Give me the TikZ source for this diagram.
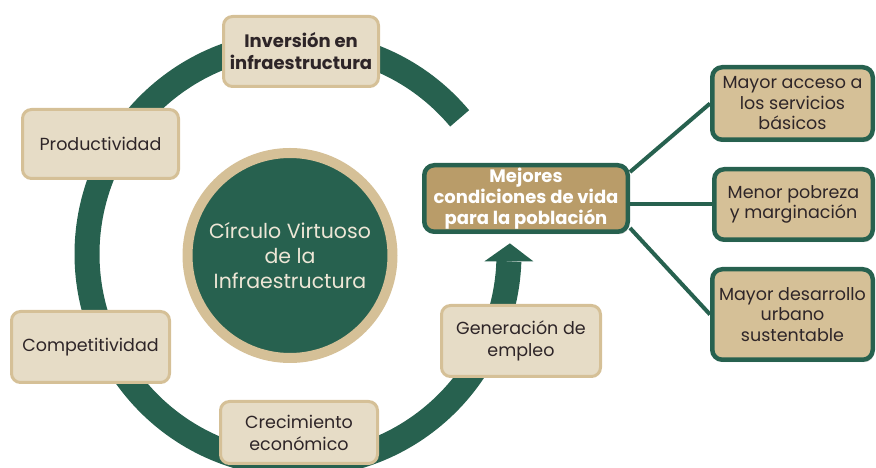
\documentclass[tikz,border=0pt]{standalone}
\usepackage{fontspec}
\setmainfont{Poppins}
\usetikzlibrary{shadows,backgrounds}
\definecolor{verde}{HTML}{27614F}
\definecolor{crema}{HTML}{E6DCC6}
\definecolor{arena}{HTML}{D5C097}
\definecolor{ocre}{HTML}{B99C69}
\definecolor{tinta}{HTML}{2E2528}
\definecolor{claro}{HTML}{EDE6D6}
\tikzset{
  ciclo/.style={draw=arena, fill=crema, line width=3pt, rounded corners=9pt,
    text=tinta, align=center, inner sep=0pt, font=\fontsize{17.5}{22}\selectfont},
  efecto/.style={draw=verde, fill=arena, line width=4.5pt, rounded corners=10pt,
    text=tinta, align=center, inner sep=0pt, font=\fontsize{17.5}{20.5}\selectfont,
    drop shadow={shadow xshift=1.5pt, shadow yshift=-2.5pt, opacity=0.35}},
  enlace/.style={draw=verde, line width=4pt}
}
\begin{document}
\begin{tikzpicture}[x=1pt,y=1pt]
  \useasboundingbox (0,0) rectangle (876,468);

  %circulo central
  \node (circulo) at (290,212.5) [circle, fill=verde, draw=arena, line width=10pt,
    minimum size=205pt, inner sep=0pt, text=claro, align=center,
    font=\fontsize{20.5}{25}\selectfont] {Círculo Virtuoso\\de la\\Infraestructura};

  %etapas del ciclo
  \node (inversion) at (301,416.5) [ciclo, minimum width=155pt, minimum height=70pt,
    font=\fontsize{18}{22}\selectfont\bfseries] {Inversión en\\infraestructura};
  \node (productividad) at (100.5,324) [ciclo, minimum width=156pt, minimum height=69pt] {Productividad};
  \node (competitividad) at (90.5,121) [ciclo, minimum width=158pt, minimum height=71pt] {Competitividad};
  \node (crecimiento) at (299,35.5) [ciclo, minimum width=157pt, minimum height=62pt] {Crecimiento\\económico};
  \node (generacion) at (521,127) [ciclo, minimum width=159pt, minimum height=71pt] {Generación de\\empleo};

  %resultado y efectos
  \node (mejores) at (526,269.5) [efecto, fill=ocre, text=white, minimum width=203.5pt, minimum height=66.5pt,
    drop shadow={shadow xshift=1pt, shadow yshift=-1.5pt, opacity=0.25},
    font=\fontsize{18}{21}\selectfont\bfseries] {Mejores\\condiciones de vida\\para la población};
  \node (acceso) at (792.5,364.5) [efecto, minimum width=160.5pt, minimum height=72.5pt] {Mayor acceso a\\los servicios\\básicos};
  \node (menor) at (793.5,263.5) [efecto, minimum width=158.5pt, minimum height=70.5pt] {Menor pobreza\\y marginación};
  \node (desarrollo) at (792.5,153.5) [efecto, minimum width=160.5pt, minimum height=90.5pt] {Mayor desarrollo\\urbano\\sustentable};

  \begin{scope}[on background layer]
    %anillo con flecha
    \draw[verde, line width=25pt] (298,214) ++(40:211) arc[start angle=40, end angle=358, radius=211]
      coordinate (fin);
    \fill[verde] (fin) ++(-24.5,0) -- ++(49,0) -- ++(-23.5,18) -- cycle;
    %enlaces
    \draw[enlace] ([yshift=-9pt]mejores.north east) -- (acceso.west);
    \draw[enlace] (menor.west) -- (menor.west -| mejores.east);
    \draw[enlace] ([yshift=6pt]mejores.south east) -- (desarrollo.west);
  \end{scope}
\end{tikzpicture}
\end{document}
